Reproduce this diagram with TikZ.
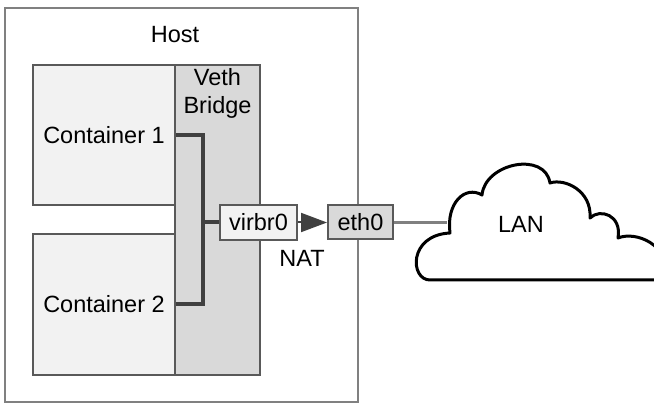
\documentclass[tikz,border=0pt]{standalone}
\usepackage{fontspec}
\setmainfont{Liberation Sans}
\usepackage{tikz}
\usetikzlibrary{arrows.meta, positioning}
\definecolor{hostgray}{RGB}{128,128,128}
\definecolor{boxgray}{RGB}{89,89,89}
\definecolor{busgray}{RGB}{64,64,64}
\definecolor{lightfill}{RGB}{242,242,242}
\definecolor{darkfill}{RGB}{217,217,217}

\begin{document}
\begin{tikzpicture}[x=1pt, y=1pt, font=\fontsize{23.5}{28}\selectfont,
    lightbox/.style={rectangle, draw=boxgray, line width=2pt, fill=lightfill, inner sep=0pt},
    darkbox/.style={rectangle, draw=boxgray, line width=2pt, fill=darkfill, inner sep=0pt},
    bus/.style={draw=busgray, line width=4pt},
    natarrow/.style={draw=busgray, line width=2pt, -{Triangle[length=26pt, width=19pt]}},
    link/.style={draw=hostgray, line width=3pt},
    cloudline/.style={draw=black, line width=3pt, line join=round, fill=white}]
    \clip (0,0) rectangle (654,403);

    % 主机
    \node[rectangle, draw=hostgray, line width=2pt, minimum width=353pt, minimum height=394pt] (host) at (181.5,198) {};
    \node[inner sep=0pt] (hostlbl) at (175,368) {Host};

    % 容器与网桥
    \node[lightbox, minimum width=142pt, minimum height=140pt] (c1) at (104,268) {Container 1};
    \node[lightbox, minimum width=142pt, minimum height=141pt] (c2) at (104,98.5) {Container 2};
    \node[darkbox, minimum width=85pt, minimum height=310pt] (veth) at (217.5,183) {};
    \node[below=4pt of veth.north, inner sep=0pt, align=center] (vethlbl) {Veth\\Bridge};

    % 总线
    \coordinate (bar) at (203,180);
    \draw[bus] (c1.east) -| (bar) |- (c2.east);
    \node[lightbox, minimum width=77pt, minimum height=35pt] (virbr) at (258.5,180.5) {virbr0};
    \draw[bus] (bar |- virbr.west) -- (virbr.west);

    % 出口
    \node[darkbox, minimum width=65pt, minimum height=34pt] (eth) at (360.5,180.5) {eth0};
    \draw[natarrow] (virbr.east) -- (eth.west);
    \node[inner sep=0pt] (nat) at (302,144.5) {NAT};

    % 局域网
    \coordinate (lanport) at (447,180.5);
    \draw[link] (eth.east) -- (lanport);
    \draw[cloudline] (668,123) -- (430,123)
        .. controls (410,123) and (408,168) .. (450,170)
        .. controls (446,200) and (465,218) .. (482,208)
        .. controls (485,240) and (545,252) .. (550,220)
        .. controls (565,225) and (592,212) .. (590,185)
        .. controls (600,195) and (622,188) .. (618,165)
        .. controls (635,172) and (670,160) .. (668,123) -- cycle;
    \node[inner sep=0pt] (lan) at (521,179) {LAN};
\end{tikzpicture}
\end{document}
